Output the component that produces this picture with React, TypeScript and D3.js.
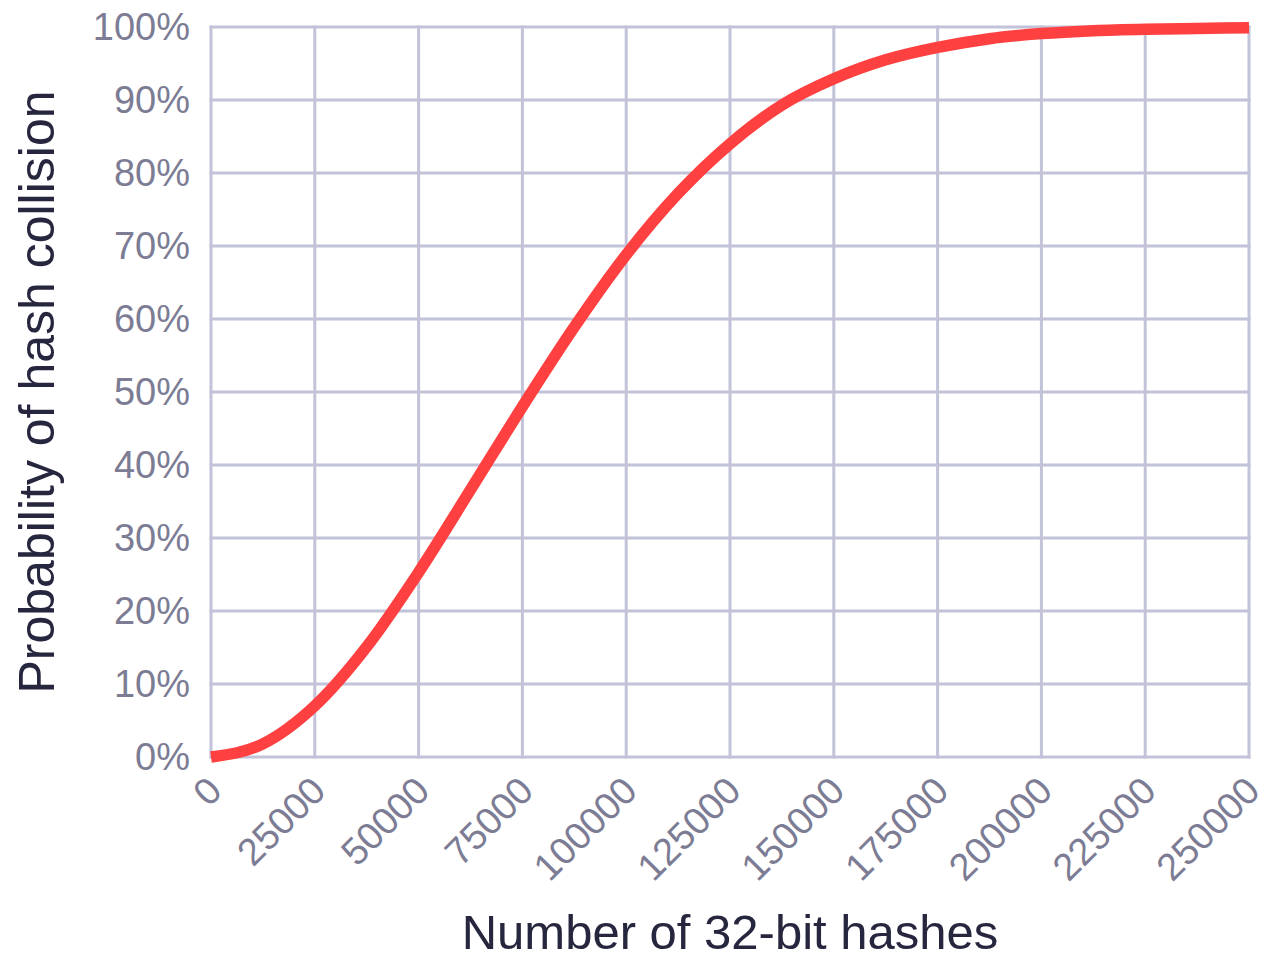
import React, { useEffect, useRef } from "react";
import * as d3 from "d3";

// number of 32-bit hashes (sample points)
const hashCounts = [
  0, 12500, 25000, 37500, 50000, 62500, 75000, 87500, 100000, 112500, 125000,
  137500, 150000, 162500, 175000, 187500, 200000, 212500, 225000, 237500, 250000,
];
// collision probability in percent
const collisionPct = [
  0, 1.8, 7.0, 15.1, 25.3, 36.6, 48.0, 58.9, 68.8, 77.2, 84.0, 89.3, 92.9,
  95.5, 97.2, 98.4, 99.1, 99.5, 99.7, 99.8, 99.9,
];
const xTicks = [
  0, 25000, 50000, 75000, 100000, 125000, 150000, 175000, 200000, 225000, 250000,
];
const yTicks = [0, 10, 20, 30, 40, 50, 60, 70, 80, 90, 100];

const W = 1268;
const H = 958;
const FONT = "'Liberation Sans', Arial, sans-serif";

export default function App() {
  const ref = useRef<SVGSVGElement | null>(null);

  useEffect(() => {
    if (!ref.current) return;
    const svg = d3.select(ref.current);
    svg.selectAll("*").remove();

    const x = d3.scaleLinear().domain([0, 250000]).range([211, 1249]);
    const y = d3.scaleLinear().domain([0, 100]).range([757, 27]);
    const grid = "#c2c2d9";

    const g = svg.append("g");

    // grid
    g.selectAll("line.v")
      .data(xTicks)
      .enter()
      .append("line")
      .attr("x1", (d) => x(d))
      .attr("x2", (d) => x(d))
      .attr("y1", y(100) - 1.5)
      .attr("y2", y(0) + 1.5)
      .attr("stroke", grid)
      .attr("stroke-width", 3);

    g.selectAll("line.h")
      .data(yTicks)
      .enter()
      .append("line")
      .attr("x1", x(0) - 1.5)
      .attr("x2", x(250000) + 1.5)
      .attr("y1", (d) => y(d))
      .attr("y2", (d) => y(d))
      .attr("stroke", grid)
      .attr("stroke-width", 3);

    // y tick labels
    g.selectAll("text.yt")
      .data(yTicks)
      .enter()
      .append("text")
      .attr("x", 190)
      .attr("y", (d) => y(d) + 13)
      .attr("text-anchor", "end")
      .attr("font-family", FONT)
      .attr("font-size", 38)
      .attr("fill", "#7c7c94")
      .text((d) => `${d}%`);

    // x tick labels, rotated
    g.selectAll("text.xt")
      .data(xTicks)
      .enter()
      .append("text")
      .attr("transform", (d) => `translate(${x(d) + 13},${793}) rotate(-45)`)
      .attr("text-anchor", "end")
      .attr("font-family", FONT)
      .attr("font-size", 38)
      .attr("fill", "#7c7c94")
      .text((d) => `${d}`);

    // curve
    const line = d3
      .line<number>()
      .x((_, i) => x(hashCounts[i]))
      .y((d) => y(d))
      .curve(d3.curveMonotoneX);

    g.append("path")
      .datum(collisionPct)
      .attr("d", line)
      .attr("fill", "none")
      .attr("stroke", "#ff4040")
      .attr("stroke-width", 11.5);

    // axis titles
    g.append("text")
      .attr("x", (x(0) + x(250000)) / 2)
      .attr("y", 949)
      .attr("text-anchor", "middle")
      .attr("font-family", FONT)
      .attr("font-size", 49)
      .attr("fill", "#26263e")
      .text("Number of 32-bit hashes");

    g.append("text")
      .attr("transform", `translate(54,${(y(0) + y(100)) / 2}) rotate(-90)`)
      .attr("text-anchor", "middle")
      .attr("font-family", FONT)
      .attr("font-size", 50)
      .attr("fill", "#26263e")
      .text("Probability of hash collision");
  }, []);

  return (
    <svg
      ref={ref}
      width={W}
      height={H}
      style={{ position: "absolute", left: 0, top: 0, background: "#fff" }}
    ></svg>
  );
}
